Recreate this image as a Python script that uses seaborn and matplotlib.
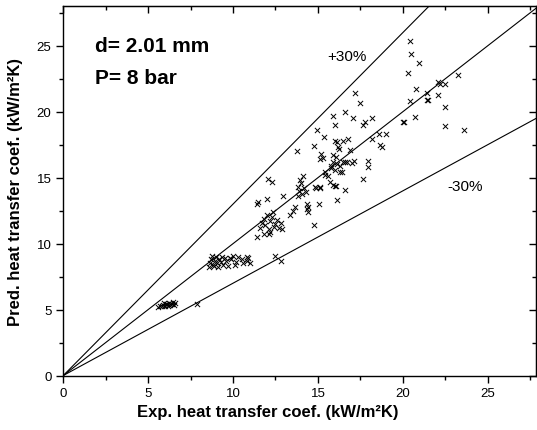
import matplotlib
matplotlib.use("Agg")
import matplotlib.pyplot as plt
import seaborn as sns
import numpy as np
import pandas as pd

# ---- data ----
exp_htc = [
    5.6, 5.7, 5.8, 5.9, 6.0, 6.05, 6.1, 6.2, 6.25, 6.3, 6.4, 6.45, 6.5, 6.6, 5.95, 6.15, 7.9,
    8.6, 8.65, 8.7, 8.75, 8.8, 8.9, 8.95, 9.0, 9.05, 9.1, 9.2, 9.3, 9.35, 9.4, 9.5, 9.6, 9.7,
    9.9, 10.0, 10.2, 10.3, 10.5, 10.6, 10.8, 10.9, 11.0, 10.1, 9.8, 10.8, 12.5, 12.8,
    11.4, 11.8, 12.1, 12.2,
    11.6, 11.7, 11.8, 11.9, 12.0, 12.1, 12.2, 12.3, 12.4, 12.5, 12.6, 12.7, 12.8, 12.9,
    12.37, 13.35, 13.55, 13.65, 14.33, 14.4, 14.33, 14.4, 15.06, 14.77,
    11.4, 11.5, 11.98, 12.96, 12.07, 12.27,
    13.8, 13.9, 13.85, 14.0, 14.1, 13.95, 14.05, 14.2, 14.3, 14.9, 15.1,
    15.7, 16.0, 16.6, 16.1, 14.8, 15.1, 15.9, 16.06,
    15.4, 17.67, 15.6, 15.4, 16.3,
    15.2, 15.3, 15.1, 15.87, 16.06, 15.9, 16.6, 17.1, 17.0, 17.96, 17.96, 15.8, 16.1, 16.5, 16.7,
    16.3, 16.4, 15.8, 16.0,
    14.77, 13.75, 16.1, 16.0, 16.5, 16.8, 16.2, 16.25, 16.9,
    18.2, 18.6, 19.0, 18.65, 18.75, 14.96, 15.35,
    15.87, 16.6, 17.04, 18.2, 17.67, 17.8, 16.0, 17.18, 17.5,
    20.0, 20.7, 20.4, 20.8, 21.4, 21.44,
    20.4, 20.5, 20.95, 20.3, 23.26, 22.1, 22.5, 22.2, 22.05, 21.46, 22.5, 22.48, 23.6, 20.07,
]
pred_htc = [
    5.2, 5.3, 5.25, 5.35, 5.3, 5.45, 5.4, 5.35, 5.5, 5.45, 5.4, 5.55, 5.35, 5.5, 5.5, 5.25, 5.4,
    8.2, 8.5, 8.8, 9.1, 8.4, 8.3, 8.7, 9.0, 8.5, 8.2, 8.8, 8.6, 9.0, 8.4, 8.9, 8.7, 8.3,
    8.8, 9.1, 8.6, 9.0, 8.8, 8.5, 8.7, 8.9, 8.5, 8.4, 8.9, 9.0, 9.05, 8.7,
    10.5, 10.75, 10.75, 10.9,
    11.2, 11.6, 11.9, 11.4, 12.2, 11.1, 11.7, 12.0, 11.3, 11.5, 11.8, 11.2, 11.6, 11.1,
    12.4, 12.2, 12.5, 12.8, 13.0, 12.8, 12.65, 12.4, 13.0, 11.4,
    13.0, 13.15, 13.35, 13.6, 14.9, 14.7,
    13.6, 14.0, 14.3, 14.6, 15.1, 14.8, 13.8, 14.2, 13.9, 14.2, 14.2,
    14.7, 14.4, 14.1, 13.3, 14.3, 14.3, 14.45, 14.4,
    15.2, 14.9, 15.1, 15.4, 15.4,
    16.8, 16.5, 16.45, 16.7, 16.55, 16.2, 16.2, 16.3, 16.1, 16.3, 15.8, 15.9, 16.05, 16.2, 16.2,
    15.9, 15.4, 15.7, 15.55,
    17.4, 17.0, 17.7, 17.75, 17.75, 17.95, 17.3, 17.15, 17.1,
    17.9, 18.35, 18.3, 17.45, 17.3, 18.6, 18.1,
    19.65, 20.0, 19.5, 19.5, 19.0, 19.2, 18.97, 21.4, 20.7,
    19.2, 19.6, 20.85, 21.7, 21.45, 20.9,
    25.4, 24.4, 23.7, 22.95, 22.76, 22.26, 22.1, 22.1, 21.25, 20.87, 20.36, 18.9, 18.6, 19.2,
]
ref_factors = [1.3, 1.0, 0.7]
x_ticks = [0, 5, 10, 15, 20, 25]
y_ticks = [0, 5, 10, 15, 20, 25]

df = pd.DataFrame({"exp": exp_htc, "pred": pred_htc})

sns.set_style("ticks")
plt.rcParams["font.family"] = ["Liberation Sans", "DejaVu Sans"]
plt.rcParams["text.color"] = "black"
plt.rcParams["axes.labelcolor"] = "black"
plt.rcParams["xtick.color"] = "black"
plt.rcParams["ytick.color"] = "black"
plt.rcParams["axes.edgecolor"] = "black"

fig = plt.figure(figsize=(5.37, 4.31), dpi=100)
ax = fig.add_axes([63.3 / 537, 1 - 376.5 / 431, (536 - 63.3) / 537, (376.5 - 7.3) / 431])

xmax, ymax = 27.85, 28.0
xs = np.array([0, xmax])
for f in ref_factors:
    ax.plot(xs, f * xs, color="black", lw=0.8, zorder=1)

sns.scatterplot(data=df, x="exp", y="pred", marker="x", color="black",
                s=14, linewidth=0.7, ax=ax, zorder=2)

ax.set_xlim(0, xmax)
ax.set_ylim(0, ymax)
ax.set_xticks(x_ticks)
ax.set_yticks(y_ticks)
ax.set_xticks(np.arange(2.5, xmax, 5), minor=True)
ax.set_yticks(np.arange(2.5, ymax, 5), minor=True)
ax.tick_params(which="major", direction="out", length=5, width=1, labelsize=9.5, colors="black")
ax.tick_params(which="minor", direction="out", length=3, width=1, colors="black")
for s in ax.spines.values():
    s.set_linewidth(1)
    s.set_color("black")
    s.set_visible(True)

top = ax.secondary_xaxis("top")
top.set_xticks(x_ticks)
top.set_xticks(np.arange(2.5, xmax, 5), minor=True)
top.tick_params(which="major", direction="in", length=5, width=1, labeltop=False)
top.tick_params(which="minor", direction="in", length=3, width=1)
right = ax.secondary_yaxis("right")
right.set_yticks(y_ticks)
right.set_yticks(np.arange(2.5, ymax, 5), minor=True)
right.tick_params(which="major", direction="in", length=5, width=1, labelright=False)
right.tick_params(which="minor", direction="in", length=3, width=1)

ax.set_xlabel("Exp. heat transfer coef. (kW/m\u00b2K)", fontsize=12, fontweight="bold", color="black")
ax.set_ylabel("Pred. heat transfer coef. (kW/m\u00b2K)", fontsize=12, fontweight="bold", color="black")
ax.xaxis.set_label_coords(0.432, -0.076)
ax.yaxis.set_label_coords(-0.085, 0.5)

ax.text(1.85, 25.0, "d= 2.01 mm", fontsize=15, fontweight="bold", va="center", ha="left", color="black")
ax.text(1.85, 22.6, "P= 8 bar", fontsize=15, fontweight="bold", va="center", ha="left", color="black")
ax.text(16.7, 24.26, "+30%", fontsize=11, ha="center", va="center", color="black")
ax.text(23.65, 14.4, "-30%", fontsize=11, ha="center", va="center", color="black")

fig.savefig("out.png", dpi=100)
